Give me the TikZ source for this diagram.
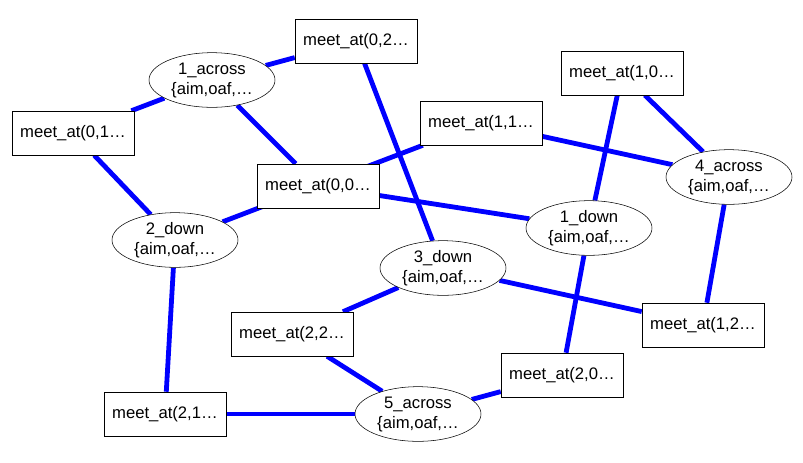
\documentclass[tikz,border=0pt]{standalone}
\usepackage{fontspec}
\setmainfont{Liberation Sans}
\usetikzlibrary{shapes.geometric,backgrounds}
\begin{document}
\begin{tikzpicture}[x=0.75pt,y=-0.75pt,
  meet/.style={draw,fill=white,rectangle,minimum width=91.5pt,minimum height=33pt,inner sep=0pt,font=\fontsize{12.5}{15}\selectfont},
  word/.style={draw,fill=white,ellipse,minimum width=94.5pt,minimum height=41pt,inner sep=0pt,align=center,font=\fontsize{12.5}{15}\selectfont},
  link/.style={blue,line width=3.6pt}]
\useasboundingbox (0,0) rectangle (803,462);
%\draw[very thin,color=gray,step=50] (0,0) grid (803,462);
\node[meet] (m02) at (356,41) {meet\_at(0,2…};
\node[meet] (m10) at (622,73) {meet\_at(1,0…};
\node[meet] (m01) at (73,133) {meet\_at(0,1…};
\node[meet] (m11) at (481,123) {meet\_at(1,1…};
\node[meet] (m00) at (318,186) {meet\_at(0,0…};
\node[meet] (m12) at (703,325) {meet\_at(1,2…};
\node[meet] (m22) at (292,334) {meet\_at(2,2…};
\node[meet] (m20) at (562,375) {meet\_at(2,0…};
\node[meet] (m21) at (165,414) {meet\_at(2,1…};
\node[word] (a1) at (212,80) {1\_across\\\{aim,oaf,…};
\node[word] (a4) at (729,177) {4\_across\\\{aim,oaf,…};
\node[word] (a5) at (418,414) {5\_across\\\{aim,oaf,…};
\node[word] (d1) at (589,228) {1\_down\\\{aim,oaf,…};
\node[word] (d2) at (175,240) {2\_down\\\{aim,oaf,…};
\node[word] (d3) at (443,268) {3\_down\\\{aim,oaf,…};
\begin{scope}[on background layer]
\draw[link] (a1) -- (m02);
\draw[link] (a1) -- (m01);
\draw[link] (a1) -- (m00);
\draw[link] (m02) -- (d3);
\draw[link] (m01) -- (d2);
\draw[link] (d2) -- (m11);
\draw[link] (d2) -- (m21);
\draw[link] (m00) -- (d1);
\draw[link] (m10) -- (d1);
\draw[link] (m10) -- (a4);
\draw[link] (m11) -- (a4);
\draw[link] (a4) -- (m12);
\draw[link] (d3) -- (m12);
\draw[link] (d3) -- (m22);
\draw[link] (m22) -- (a5);
\draw[link] (d1) -- (m20);
\draw[link] (m20) -- (a5);
\draw[link] (m21) -- (a5);
\end{scope}
\end{tikzpicture}
\end{document}
